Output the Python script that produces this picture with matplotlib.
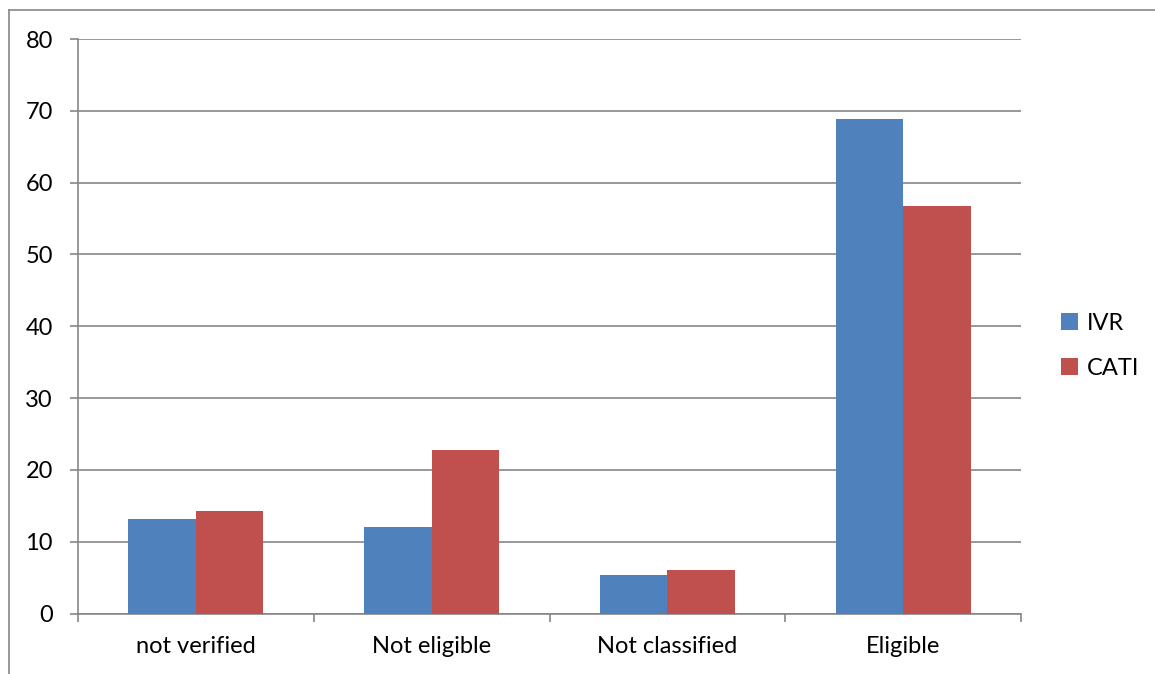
import matplotlib.pyplot as plt
from matplotlib.lines import Line2D
import numpy as np

categories = ["not verified", "Not eligible", "Not classified", "Eligible"]
ivr = [13.2, 12.1, 5.4, 68.9]
cati = [14.3, 22.7, 6.0, 56.7]
series_names = ["IVR", "CATI"]
colors = ["#4F81BD", "#C0504D"]

plt.rcParams['font.family'] = ['Lato', 'DejaVu Sans']
grid_color = "#868686"
fs = 17

fig = plt.figure(figsize=(11.55, 6.74), dpi=100)
ax = fig.add_axes([78/1155, 1 - 613.5/674, (1021 - 78)/1155, (613.5 - 39)/674])

x = np.arange(len(categories))
w = 0.286
ax.bar(x - w/2, ivr, w, color=colors[0], label=series_names[0], zorder=3)
ax.bar(x + w/2, cati, w, color=colors[1], label=series_names[1], zorder=3)

ax.set_xlim(-0.5, len(categories) - 0.5)
ax.set_ylim(0, 80)
ax.set_yticks(range(0, 81, 10))
ax.yaxis.grid(True, color=grid_color, linewidth=1.2, zorder=0)

# category boundaries get the tick marks, labels sit on the centres
ax.set_xticks(np.arange(-0.5, len(categories), 1))
ax.set_xticklabels([])
ax.set_xticks(x, minor=True)
ax.set_xticklabels(categories, minor=True)
ax.tick_params(axis='x', which='major', length=6, width=1.2, color=grid_color)
ax.tick_params(axis='x', which='minor', length=0, pad=16, labelsize=fs)
ax.tick_params(axis='y', length=6, width=1.2, color=grid_color, pad=12, labelsize=fs)

for side in ['top', 'right']:
    ax.spines[side].set_visible(False)
for side in ['left', 'bottom']:
    ax.spines[side].set_color(grid_color)
    ax.spines[side].set_linewidth(1.2)

ax.legend(loc='center left', bbox_to_anchor=(1.02, 0.466), frameon=False,
          fontsize=fs, handlelength=0.7, handleheight=0.7,
          handletextpad=0.4, labelspacing=1.0)

# outer chart frame
fig.add_artist(Line2D([9/1155, 9/1155], [0, 1 - 10/674], transform=fig.transFigure,
                      color=grid_color, linewidth=1.2))
fig.add_artist(Line2D([9/1155, 1], [1 - 10/674, 1 - 10/674], transform=fig.transFigure,
                      color=grid_color, linewidth=1.2))

fig.savefig("out.png", dpi=100)
